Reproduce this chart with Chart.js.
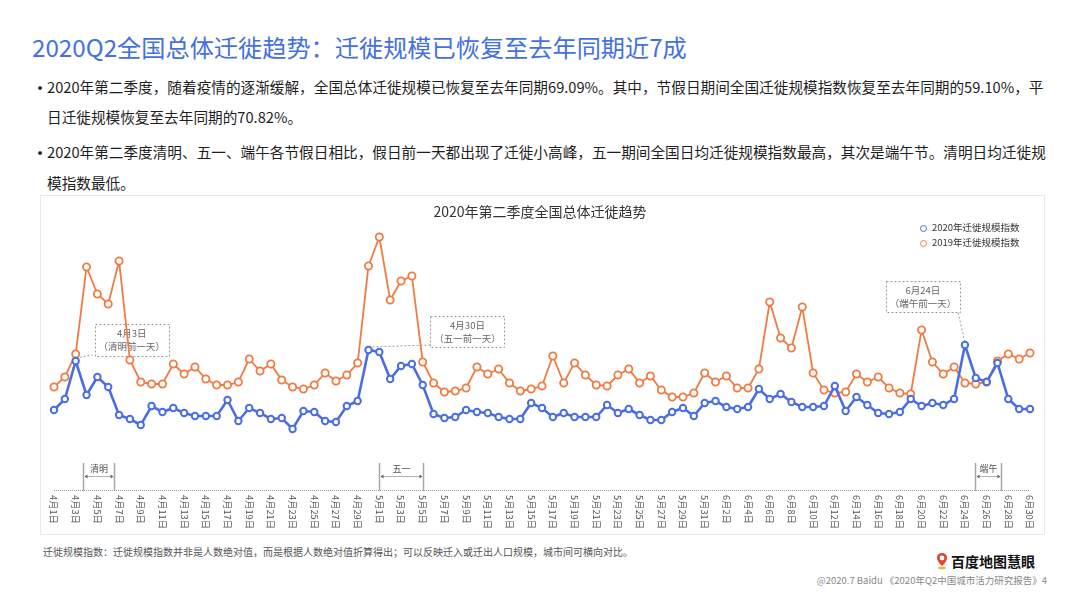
<!DOCTYPE html>
<html>
<head>
<meta charset="utf-8">
<script src="https://cdn.jsdelivr.net/npm/chart.js@4/dist/chart.umd.min.js"></script>
<style>
  html, body { margin: 0; padding: 0; background: #fff; }
  body { width: 1080px; height: 608px; position: relative; overflow: hidden;
         font-family: "Noto Sans CJK SC", "Noto Sans", sans-serif; color: #222; }
  .abs { position: absolute; white-space: nowrap; }
  #heading { left: 32px; top: 31px; font-size: 24.2px; line-height: 32px; color: #4470e2; }
  .line { left: 47px; font-size: 14.65px; line-height: 20px; color: #1e1e1e; }
  .dot { left: 31px; top: 0; width: 12px; text-align: center; font-size: 18px; line-height: 20px; color: #222; }
  #panel { left: 40px; top: 195px; width: 1005px; height: 340px; border: 1px solid #e9e9e9; box-sizing: border-box; }
  #wrap { left: 40px; top: 195px; width: 1005px; height: 338px; }
  #ctitle { left: 340px; width: 400px; top: 202px; text-align: center; font-size: 14px; line-height: 18px; color: #333; }
  .leg { left: 920px; font-size: 9.5px; line-height: 12px; color: #333; }
  .leg i { display: inline-block; width: 5px; height: 5px; border-radius: 50%; border: 1.6px solid; margin-right: 5px; vertical-align: -1px; }
  #note { left: 43px; top: 545px; font-size: 10px; line-height: 14px; color: #555; }
  #logo { left: 936px; top: 551px; font-size: 14px; line-height: 20px; font-weight: bold; color: #111; }
  #copy { right: 33px; top: 574px; font-size: 9.5px; line-height: 13px; color: #888; }
</style>
</head>
<body>
<div id="heading" class="abs">2020Q2全国总体迁徙趋势：迁徙规模已恢复至去年同期近7成</div>
<div class="abs dot" style="top:77px">•</div>
<div class="abs line" style="top:77px">2020年第二季度，随着疫情的逐渐缓解，全国总体迁徙规模已恢复至去年同期69.09%。其中，节假日期间全国迁徙规模指数恢复至去年同期的59.10%，平</div>
<div class="abs line" style="top:107px">日迁徙规模恢复至去年同期的70.82%。</div>
<div class="abs dot" style="top:142px">•</div>
<div class="abs line" style="top:142px">2020年第二季度清明、五一、端午各节假日相比，假日前一天都出现了迁徙小高峰，五一期间全国日均迁徙规模指数最高，其次是端午节。清明日均迁徙规</div>
<div class="abs line" style="top:173px">模指数最低。</div>

<div id="panel" class="abs"></div>
<div id="wrap" class="abs"><canvas id="migration_q2" width="1005" height="338"></canvas></div>
<div id="ctitle" class="abs">2020年第二季度全国总体迁徙趋势</div>
<div class="abs leg" style="top:221px"><i style="border-color:#4a6de5"></i>2020年迁徙规模指数</div>
<div class="abs leg" style="top:236px"><i style="border-color:#ef7b43"></i>2019年迁徙规模指数</div>

<div id="note" class="abs">迁徙规模指数：迁徙规模指数并非是人数绝对值，而是根据人数绝对值折算得出；可以反映迁入或迁出人口规模，城市间可横向对比。</div>
<div id="logo" class="abs"><svg width="12" height="18" viewBox="0 0 12 18" style="vertical-align:-3px;margin-right:3px"><path d="M6 1 C2.5 1 1 3.6 1 6 C1 9.5 6 14 6 14 C6 14 11 9.5 11 6 C11 3.6 9.5 1 6 1 Z" fill="#e8402f"/><circle cx="6" cy="6" r="2.4" fill="#fff"/><ellipse cx="6" cy="16" rx="4" ry="1.3" fill="#f3b23a"/></svg>百度地图慧眼</div>
<div id="copy" class="abs">@2020.7 Baidu 《2020年Q2中国城市活力研究报告》4</div>

<script>
// Q2 2020 migration index vs 2019

// categories: every day from 4月1日 to 6月30日
let months_q2 = [4, 5, 6];
let monthDays_q2 = [30, 31, 30];
let labels_q2 = [];
for (let m = 0; m < months_q2.length; m++) {
	for (let d = 1; d <= monthDays_q2[m]; d++) {
		labels_q2.push(months_q2[m] + '月' + d + '日');
	}
}

// index values
let index2020 = [
	80, 91, 129, 95, 113, 103, 75, 71, 65, 84,
	78, 82, 77, 74, 74, 74, 90, 69, 82, 77,
	71, 72, 61, 79, 78, 69, 68, 84, 89, 140,
	138, 111, 124, 126, 105, 76, 72, 73, 80, 78,
	77, 73, 71, 71, 87, 82, 73, 77, 73, 73,
	73, 85, 77, 81, 75, 70, 70, 78, 82, 74,
	87, 89, 83, 81, 83, 101, 91, 96, 88, 83,
	83, 84, 104, 79, 93, 85, 77, 76, 78, 91,
	84, 87, 85, 91, 145, 112, 108, 127, 91, 81,
	81
];
let index2019 = [
	103, 113, 136, 223, 196, 186, 229, 130, 108, 106,
	106, 126, 116, 123, 111, 105, 105, 108, 131, 119,
	126, 110, 103, 101, 105, 117, 109, 115, 127, 224,
	253, 190, 209, 214, 128, 107, 98, 99, 102, 123,
	116, 121, 107, 99, 101, 104, 134, 107, 127, 115,
	105, 104, 115, 121, 107, 114, 100, 93, 93, 97,
	117, 108, 114, 102, 102, 121, 188, 152, 142, 183,
	117, 100, 97, 98, 116, 108, 113, 102, 97, 96,
	160, 128, 116, 123, 107, 106, 108, 129, 136, 131,
	137
];

// holidays (day index, bracket edges)
let holidayNames = ['清明', '五一', '端午'];
let holidayFrom = [2.7, 30, 84.9];
let holidayTo = [5.5, 34, 87.3];

// callouts on the 2020 series
let calloutIndex = [2, 29, 84];
let calloutTitle = ['4月3日', '4月30日', '6月24日'];
let calloutSub = ['（清明前一天）', '（五一前一天）', '（端午前一天）'];

let blue_q2 = '#4a6de5';
let orange_q2 = '#ef7b43';

// box offsets from the anchor point + connector end on the box
let calloutBoxes = [
	{ dx: 19, dy: -37, w: 74, h: 32, cx: 17, cy: -6 },
	{ dx: 62, dy: -34, w: 74, h: 31, cx: 62, cy: -5 },
	{ dx: -79, dy: -64, w: 74, h: 31, cx: -7, cy: -33 }
];

let extras_q2 = {
	id: 'extras_q2',
	beforeDatasetsDraw: function(chart) {
		let ctx = chart.ctx;
		let pts = chart.getDatasetMeta(0).data;
		ctx.save();
		ctx.strokeStyle = '#9a9a9a';
		ctx.lineWidth = 1;
		ctx.setLineDash([2, 2]);
		for (let i = 0; i < calloutIndex.length; i++) {
			let p = pts[calloutIndex[i]];
			let b = calloutBoxes[i];
			ctx.beginPath();
			ctx.moveTo(p.x, p.y - 3);
			ctx.lineTo(p.x + b.cx, p.y + b.cy);
			ctx.stroke();
			ctx.strokeRect(Math.round(p.x + b.dx) + 0.5, Math.round(p.y + b.dy) + 0.5, b.w, b.h);
			ctx.fillStyle = '#666';
			ctx.font = '9.5px "Noto Sans CJK SC", sans-serif';
			ctx.textAlign = 'center';
			ctx.textBaseline = 'middle';
			ctx.fillText(calloutTitle[i], p.x + b.dx + b.w / 2, p.y + b.dy + 9);
			ctx.fillText(calloutSub[i], p.x + b.dx + b.w / 2, p.y + b.dy + 22);
		}
		ctx.restore();
	},
	afterDraw: function(chart) {
		let ctx = chart.ctx;
		let x = chart.scales.x;
		let axisY = chart.chartArea.bottom;
		ctx.save();

		// dotted baseline
		ctx.strokeStyle = '#9a9a9a';
		ctx.lineWidth = 1;
		ctx.setLineDash([1, 1]);
		ctx.beginPath();
		ctx.moveTo(x.getPixelForValue(0), axisY + 0.5);
		ctx.lineTo(x.getPixelForValue(labels_q2.length - 1), axisY + 0.5);
		ctx.stroke();

		// tick labels, every other day, turned clockwise
		ctx.setLineDash([]);
		ctx.fillStyle = '#555';
		ctx.font = '9.3px "Noto Sans CJK SC", sans-serif';
		ctx.textAlign = 'left';
		ctx.textBaseline = 'middle';
		for (let i = 0; i < labels_q2.length; i += 2) {
			ctx.save();
			ctx.translate(x.getPixelForValue(i), axisY + 5);
			ctx.rotate(Math.PI / 2);
			ctx.fillText(labels_q2[i], 0, 0);
			ctx.restore();
		}

		// holiday brackets
		for (let h = 0; h < holidayNames.length; h++) {
			let x1 = Math.round(x.getPixelForValue(holidayFrom[h])) + 0.5;
			let x2 = Math.round(x.getPixelForValue(holidayTo[h])) + 0.5;
			ctx.strokeStyle = '#a8a8a8';
			ctx.lineWidth = 1.5;
			ctx.setLineDash([]);
			ctx.beginPath();
			ctx.moveTo(x1, axisY - 27); ctx.lineTo(x1, axisY + 1);
			ctx.moveTo(x2, axisY - 27); ctx.lineTo(x2, axisY + 1);
			ctx.stroke();
			let ay = axisY - 13.5;
			ctx.strokeStyle = '#666';
			ctx.lineWidth = 1;
			ctx.setLineDash([1, 1]);
			ctx.beginPath();
			ctx.moveTo(x1 + 2, ay); ctx.lineTo(x2 - 2, ay);
			ctx.stroke();
			ctx.setLineDash([]);
			ctx.fillStyle = '#666';
			ctx.beginPath();
			ctx.moveTo(x1 + 1, ay); ctx.lineTo(x1 + 4, ay - 2); ctx.lineTo(x1 + 4, ay + 2); ctx.closePath();
			ctx.moveTo(x2 - 1, ay); ctx.lineTo(x2 - 4, ay - 2); ctx.lineTo(x2 - 4, ay + 2); ctx.closePath();
			ctx.fill();
			ctx.fillStyle = '#555';
			ctx.font = '9px "Noto Sans CJK SC", sans-serif';
			ctx.textAlign = 'center';
			ctx.fillText(holidayNames[h], (x1 + x2) / 2, axisY - 21);
		}
		ctx.restore();
	}
};

let ctx_q2 = document.getElementById('migration_q2').getContext('2d');
let chart_q2 = new Chart(ctx_q2, {
	type: 'line',
	data: {
		labels: labels_q2,
		datasets: [{
			label: '2020年迁徙规模指数',
			data: index2020,
			borderColor: blue_q2,
			backgroundColor: '#ffffff',
			pointBorderColor: blue_q2,
			pointBackgroundColor: '#ffffff',
			borderWidth: 2.6,
			pointRadius: 3.2,
			pointBorderWidth: 2,
			tension: 0,
			clip: false
		}, {
			label: '2019年迁徙规模指数',
			data: index2019,
			borderColor: orange_q2,
			backgroundColor: '#ffffff',
			pointBorderColor: orange_q2,
			pointBackgroundColor: '#ffffff',
			borderWidth: 1.8,
			pointRadius: 3.6,
			pointBorderWidth: 1.8,
			tension: 0,
			clip: false
		}]
	},
	options: {
		responsive: false,
		animation: false,
		devicePixelRatio: 1,
		layout: { padding: { left: 14, right: 15, top: 30, bottom: 43 } },
		scales: {
			x: { display: false },
			y: { display: false, min: 0, max: 265 }
		},
		plugins: {
			legend: { display: false },
			title: { display: false },
			tooltip: { enabled: false }
		}
	},
	plugins: [extras_q2]
});
</script>
</body>
</html>
